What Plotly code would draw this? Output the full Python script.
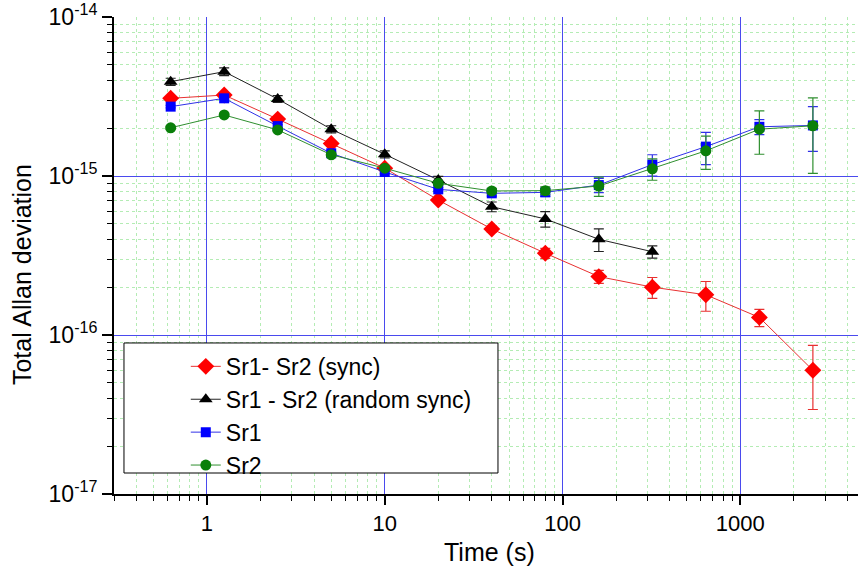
import plotly.graph_objects as go

tau = [0.625, 1.25, 2.5, 5, 10, 20, 40, 80, 160, 320, 640, 1280, 2560]

sync = [3.08e-15, 3.23e-15, 2.28e-15, 1.60e-15, 1.12e-15, 7.06e-16, 4.64e-16,
        3.27e-16, 2.33e-16, 2.0e-16, 1.79e-16, 1.29e-16, 6.0e-17]
sync_err = [0.05e-15, 0.05e-15, 0.05e-15, 0.04e-15, 0.03e-15, 0.2e-16, 0.2e-16,
            0.24e-16, 0.22e-16, 0.3e-16, 0.38e-16, 0.16e-16, 2.6e-17]

tau_rand = tau[:10]
rand = [3.92e-15, 4.53e-15, 3.05e-15, 1.97e-15, 1.37e-15, 9.44e-16, 6.41e-16,
        5.37e-16, 4.0e-16, 3.34e-16]
rand_err = [0.2e-15, 0.25e-15, 0.15e-15, 0.1e-15, 0.07e-15, 0.5e-16, 0.45e-16,
            0.6e-16, 0.65e-16, 0.3e-16]

sr1 = [2.73e-15, 3.08e-15, 2.06e-15, 1.39e-15, 1.06e-15, 8.24e-16, 7.78e-16,
       7.89e-16, 8.77e-16, 1.18e-15, 1.53e-15, 2.04e-15, 2.08e-15]
sr1_err = [0.05e-15, 0.05e-15, 0.04e-15, 0.03e-15, 0.03e-15, 0.2e-16, 0.3e-16,
           0.45e-16, 0.9e-16, 0.18e-15, 0.35e-15, 0.22e-15, 0.65e-15]

sr2 = [2.01e-15, 2.42e-15, 1.95e-15, 1.36e-15, 1.12e-15, 9.0e-16, 8.05e-16,
       8.09e-16, 8.65e-16, 1.11e-15, 1.44e-15, 1.97e-15, 2.07e-15]
sr2_err = [0.04e-15, 0.04e-15, 0.03e-15, 0.03e-15, 0.03e-15, 0.2e-16, 0.3e-16,
           0.45e-16, 1.2e-16, 0.17e-15, 0.34e-15, 0.6e-15, 1.03e-15]

names = ["Sr1- Sr2 (sync)", "Sr1 - Sr2 (random sync)", "Sr1", "Sr2"]

x_major = [1, 10, 100, 1000]
x_labels = ["1", "10", "100", "1000"]
y_major = [1e-17, 1e-16, 1e-15, 1e-14]
y_labels = ["10<sup>-17</sup>", "10<sup>-16</sup>", "10<sup>-15</sup>", "10<sup>-14</sup>"]

x_minor = [m * 10 ** e for e in range(-1, 4) for m in range(2, 10)]
y_minor = [m * 10.0 ** e for e in range(-17, -14) for m in range(2, 10)]

FONT = "Liberation Sans, Arial, sans-serif"

fig = go.Figure()

def add(x, y, err, name, color, lcolor, symbol, size):
    fig.add_trace(go.Scatter(
        x=x, y=y, name=name, mode="lines+markers",
        line=dict(color=lcolor, width=1),
        marker=dict(color=color, symbol=symbol, size=size),
        error_y=dict(type="data", array=err, color=lcolor, thickness=1.2, width=5),
    ))

add(tau, sync, sync_err, names[0], "#ff0000", "#e83030", "diamond", 13)
add(tau_rand, rand, rand_err, names[1], "#000000", "#222222", "triangle-up", 12)
add(tau, sr1, sr1_err, names[2], "#0000ff", "#3030e8", "square", 10)
add(tau, sr2, sr2_err, names[3], "#0a7f0a", "#2f8f2f", "circle", 11)

grid_minor = dict(ticks="outside", ticklen=5, tickcolor="black", tickwidth=1,
                  showgrid=True, gridcolor="#b4ecb4", griddash="dot", gridwidth=1)

fig.update_xaxes(
    type="log", range=[-0.5229, 3.662],
    tickvals=x_major, ticktext=x_labels,
    ticks="outside", ticklen=9, tickwidth=1.5, tickcolor="black",
    showline=True, linecolor="black", linewidth=2,
    showgrid=True, gridcolor="#4a4aee", gridwidth=1,
    zeroline=False,
    tickfont=dict(family=FONT, size=22, color="black"),
    minor=dict(tickvals=x_minor, **grid_minor),
)
fig.update_yaxes(
    type="log", range=[-17, -14],
    tickvals=y_major, ticktext=y_labels,
    ticks="outside", ticklen=10, tickwidth=1.5, tickcolor="black",
    showline=True, linecolor="black", linewidth=2,
    showgrid=True, gridcolor="#4a4aee", gridwidth=1,
    zeroline=False,
    tickfont=dict(family=FONT, size=23, color="black"),
    minor=dict(tickvals=y_minor, **grid_minor),
)

fig.update_layout(
    width=858, height=566,
    margin=dict(l=114, r=0, t=17, b=72),
    paper_bgcolor="white", plot_bgcolor="white",
    font=dict(family=FONT, color="black"),
    showlegend=True,
    legend=dict(x=0.0965, y=0.3126, xanchor="left", yanchor="top",
                bgcolor="rgba(0,0,0,0)", borderwidth=0,
                font=dict(family=FONT, size=23, color="black"),
                tracegroupgap=0),
    shapes=[dict(type="rect", xref="paper", yref="paper",
                 x0=0.0134, x1=0.5161, y0=0.044, y1=0.3166,
                 line=dict(color="black", width=1), fillcolor="white",
                 layer="above")],
    annotations=[
        dict(text="Total Allan deviation", xref="paper", yref="paper",
             x=-0.1237, y=0.461, xanchor="center", yanchor="middle",
             textangle=-90, showarrow=False,
             font=dict(family=FONT, size=25, color="black")),
        dict(text="Time (s)", xref="paper", yref="paper",
             x=0.505, y=-0.1216, xanchor="center", yanchor="middle",
             showarrow=False, font=dict(family=FONT, size=25, color="black")),
    ],
)

fig.write_html("out.html", config={"displayModeBar": False},
               post_script="document.body.style.margin='0px';")
